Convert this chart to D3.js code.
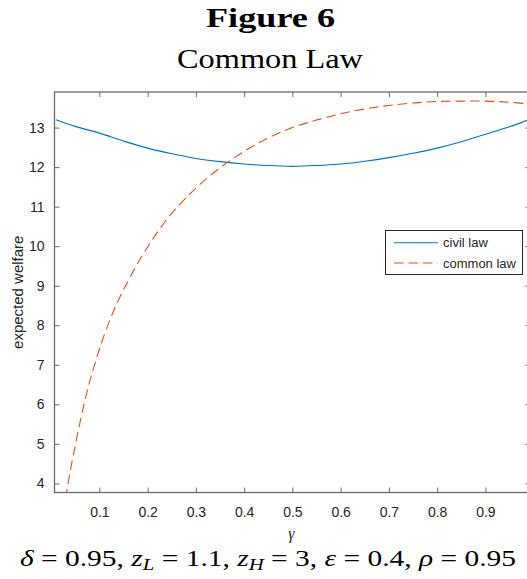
<!DOCTYPE html>
<html>
<head>
<meta charset="utf-8">
<script src="https://cdn.jsdelivr.net/npm/d3@7"></script>
<style>
  html, body { margin: 0; padding: 0; background: #fff; }
  svg { display: block; }
</style>
</head>
<body>
<svg id="chart" width="527" height="579"></svg>
<script>
// ---------- data ----------
const civilGamma = [0.01, 0.05, 0.10, 0.15, 0.20, 0.25, 0.30, 0.35, 0.40, 0.45, 0.50,
                    0.55, 0.60, 0.65, 0.70, 0.75, 0.80, 0.85, 0.90, 0.95, 0.99];
const civilLaw   = [13.20, 13.03, 12.86, 12.66, 12.48, 12.34, 12.22, 12.14, 12.08, 12.04, 12.02,
                    12.04, 12.08, 12.15, 12.24, 12.35, 12.48, 12.64, 12.83, 13.02, 13.20];
const commonGamma = [0.03, 0.04, 0.05, 0.06, 0.07, 0.08, 0.09, 0.10, 0.12, 0.14, 0.16, 0.18,
                     0.20, 0.22, 0.25, 0.30, 0.35, 0.40, 0.45, 0.50, 0.55, 0.60, 0.65,
                     0.70, 0.75, 0.80, 0.85, 0.90, 0.95, 0.99];
const commonLaw   = [3.62, 4.33, 4.96, 5.55, 6.10, 6.58, 7.00, 7.40, 8.08, 8.65, 9.13, 9.58,
                     9.98, 10.35, 10.83, 11.47, 11.98, 12.40, 12.74, 13.00, 13.19, 13.35, 13.47,
                     13.56, 13.62, 13.66, 13.67, 13.67, 13.64, 13.60];
const xTicks = [0.1, 0.2, 0.3, 0.4, 0.5, 0.6, 0.7, 0.8, 0.9];
const yTicks = [4, 5, 6, 7, 8, 9, 10, 11, 12, 13];
const seriesNames = ["civil law", "common law"];
const xDomain = [0.007, 0.993];
const yDomain = [3.77, 13.9];

// ---------- layout ----------
const svg = d3.select("#chart");
const L = 54.5, R = 530.3, T = 92, B = 492.5;
const x = d3.scaleLinear().domain(xDomain).range([L, R]);
const y = d3.scaleLinear().domain(yDomain).range([B, T]);
const textCol = "#262626";
const axisCol = "#6a6a6a";
const blue = "#0072BD", orange = "#D95319";

svg.append("defs").append("clipPath").attr("id", "clip")
  .append("rect").attr("x", L).attr("y", T).attr("width", R - L).attr("height", B - T);

// titles
svg.append("text").attr("x", 206).attr("y", 27)
  .attr("textLength", 129).attr("lengthAdjust", "spacingAndGlyphs")
  .attr("font-family", "Liberation Serif, serif").attr("font-weight", "bold")
  .attr("font-size", 28).attr("fill", "#000").text("Figure 6");
svg.append("text").attr("x", 177).attr("y", 68)
  .attr("textLength", 186).attr("lengthAdjust", "spacingAndGlyphs")
  .attr("font-family", "Liberation Serif, serif")
  .attr("font-size", 27).attr("fill", "#000").text("Common Law");

// curves
const plot = svg.append("g").attr("clip-path", "url(#clip)");
const line = d3.line().x(d => x(d[0])).y(d => y(d[1])).curve(d3.curveCatmullRom.alpha(0.5));
plot.append("path").datum(civilGamma.map((g, i) => [g, civilLaw[i]]))
  .attr("d", line).attr("fill", "none").attr("stroke", blue).attr("stroke-width", 1.1);
plot.append("path").datum(commonGamma.map((g, i) => [g, commonLaw[i]]))
  .attr("d", line).attr("fill", "none").attr("stroke", orange).attr("stroke-width", 1.1)
  .attr("stroke-dasharray", "9.5,5");

// axes
const axG = svg.append("g");
const tickLen = 5;
const xAxisB = d3.axisBottom(x).tickValues(xTicks).tickSizeInner(-tickLen).tickSizeOuter(0)
  .tickPadding(tickLen + 10).tickFormat(d3.format(".1f"));
const xAxisT = d3.axisTop(x).tickValues(xTicks).tickSizeInner(-tickLen).tickSizeOuter(0)
  .tickFormat("");
const yAxisL = d3.axisLeft(y).tickValues(yTicks).tickSizeInner(-tickLen).tickSizeOuter(0)
  .tickPadding(tickLen + 5).tickFormat(d3.format("d"));
const yAxisR = d3.axisRight(y).tickValues(yTicks).tickSizeInner(-tickLen).tickSizeOuter(0)
  .tickFormat("");

function styleAxis(g) {
  g.select(".domain").remove();
  g.selectAll(".tick line").attr("stroke", axisCol).attr("stroke-width", 1);
  g.selectAll(".tick text").attr("fill", textCol)
    .attr("font-family", "Liberation Sans, Arial, sans-serif").attr("font-size", 14);
}
axG.append("g").attr("transform", `translate(0,${B})`).call(xAxisB).call(styleAxis);
axG.append("g").attr("transform", `translate(0,${T})`).call(xAxisT).call(styleAxis);
axG.append("g").attr("transform", `translate(${L},0)`).call(yAxisL).call(styleAxis);
axG.append("g").attr("transform", `translate(${R},0)`).call(yAxisR).call(styleAxis);
axG.append("rect").attr("x", L).attr("y", T).attr("width", R - L).attr("height", B - T)
  .attr("fill", "none").attr("stroke", axisCol).attr("stroke-width", 1.3);

// axis labels
svg.append("text").attr("transform", `translate(23,${(T + B) / 2}) rotate(-90)`)
  .attr("text-anchor", "middle").attr("fill", textCol)
  .attr("font-family", "Liberation Sans, Arial, sans-serif").attr("font-size", 15)
  .text("expected welfare");
svg.append("text").attr("x", (L + R) / 2 - 1).attr("y", 539)
  .attr("text-anchor", "middle").attr("fill", textCol)
  .attr("font-family", "Liberation Serif, serif").attr("font-style", "italic")
  .attr("font-size", 16).text("γ");

// legend
const lg = svg.append("g");
lg.append("rect").attr("x", 385.5).attr("y", 230.5).attr("width", 137).attr("height", 44)
  .attr("fill", "#fff").attr("stroke", textCol).attr("stroke-width", 1);
const legColors = [blue, orange];
const legDash = [null, "9.5,5"];
seriesNames.forEach((name, i) => {
  const ly = 242.7 + i * 20.3;
  lg.append("line").attr("x1", 394).attr("x2", 438).attr("y1", ly).attr("y2", ly)
    .attr("stroke", legColors[i]).attr("stroke-width", 1.1)
    .attr("stroke-dasharray", legDash[i]);
  lg.append("text").attr("x", 443).attr("y", ly + 4.6).attr("fill", textCol)
    .attr("font-family", "Liberation Sans, Arial, sans-serif").attr("font-size", 13)
    .text(name);
});

// parameter line (math)
const sub = svg.append("text").attr("x", 20).attr("y", 566)
  .attr("textLength", 496).attr("lengthAdjust", "spacingAndGlyphs")
  .attr("font-family", "Liberation Serif, serif").attr("font-size", 24).attr("fill", "#000");
const parts = [
  ["δ", "i"], [" = 0.95, ", "r"], ["z", "i"], ["L", "s"], [" = 1.1, ", "r"],
  ["z", "i"], ["H", "s"], [" = 3, ", "r"], ["ε", "i"], [" = 0.4, ", "r"],
  ["ρ", "i"], [" = 0.95", "r"]
];
let shifted = false;
parts.forEach(([t, k]) => {
  const ts = sub.append("tspan").text(t);
  if (k === "i") ts.attr("font-style", "italic");
  if (k === "s") { ts.attr("font-style", "italic").attr("font-size", 17).attr("dy", 4); shifted = true; }
  else if (shifted) { ts.attr("dy", -4); shifted = false; }
});
</script>
</body>
</html>
